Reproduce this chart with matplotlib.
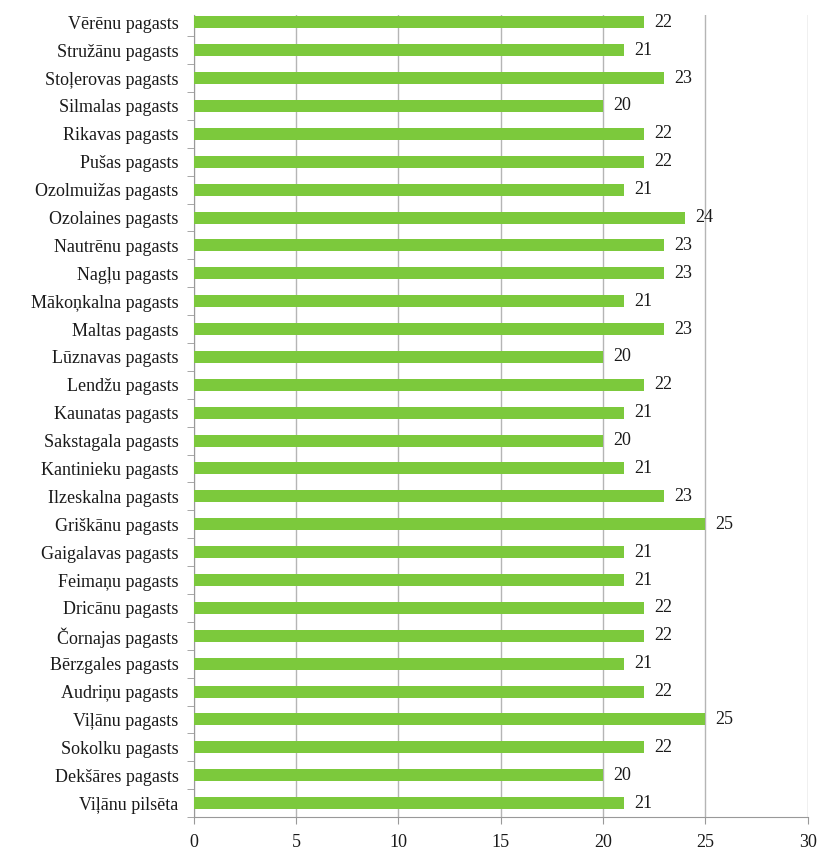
import numpy as np
import matplotlib
matplotlib.use("Agg")
import matplotlib.pyplot as plt
from matplotlib.ticker import FixedLocator

# Categories listed bottom to top, as drawn
parishes = [
    "Viļānu pilsēta", "Dekšāres pagasts", "Sokolku pagasts", "Viļānu pagasts",
    "Audriņu pagasts", "Bērzgales pagasts", "Čornajas pagasts", "Dricānu pagasts",
    "Feimaņu pagasts", "Gaigalavas pagasts", "Griškānu pagasts", "Ilzeskalna pagasts",
    "Kantinieku pagasts", "Sakstagala pagasts", "Kaunatas pagasts", "Lendžu pagasts",
    "Lūznavas pagasts", "Maltas pagasts", "Mākoņkalna pagasts", "Nagļu pagasts",
    "Nautrēnu pagasts", "Ozolaines pagasts", "Ozolmuižas pagasts", "Pušas pagasts",
    "Rikavas pagasts", "Silmalas pagasts", "Stoļerovas pagasts", "Stružānu pagasts",
    "Vērēnu pagasts",
]
values = [21, 20, 22, 25, 22, 21, 22, 22, 21, 21, 25, 23, 21, 20, 21, 22,
          20, 23, 21, 23, 23, 24, 21, 22, 22, 20, 23, 21, 22]
x_ticks = [0, 5, 10, 15, 20, 25, 30]

plt.rcParams["font.family"] = ["Liberation Serif", "DejaVu Serif"]

fig = plt.figure(figsize=(8.25, 8.52), dpi=100)
ax = fig.add_axes([0.235, 0.041, 0.744, 0.941])

y = np.arange(len(parishes))
ax.barh(y, values, height=0.43, color="#7cc93c", zorder=3)

for yi, v in zip(y, values):
    ax.text(v + 0.5, yi, str(v), va="center", ha="left", fontsize=13,
            color="#1a1a1a")

ax.set_xlim(0, 30)
ax.set_ylim(-0.5, 28.25)
ax.set_xticks(x_ticks)
ax.set_xticklabels([str(t) for t in x_ticks], fontsize=13, color="#1a1a1a")
ax.set_yticks(y)
ax.set_yticklabels(parishes, fontsize=13, color="#1a1a1a")
ax.yaxis.set_minor_locator(FixedLocator(np.arange(-0.5, len(parishes), 1.0)))
ax.tick_params(axis="y", which="major", length=0, pad=11)
ax.tick_params(axis="y", which="minor", length=5, color="#999999")
ax.tick_params(axis="x", length=5, color="#999999", pad=7)

ax.grid(axis="x", color="#b5b5b5", linewidth=1, zorder=0)
for side in ["top", "right"]:
    ax.spines[side].set_visible(False)
ax.spines["left"].set_color("#999999")
ax.spines["bottom"].set_color("#999999")

fig.savefig("out.png", dpi=100)
